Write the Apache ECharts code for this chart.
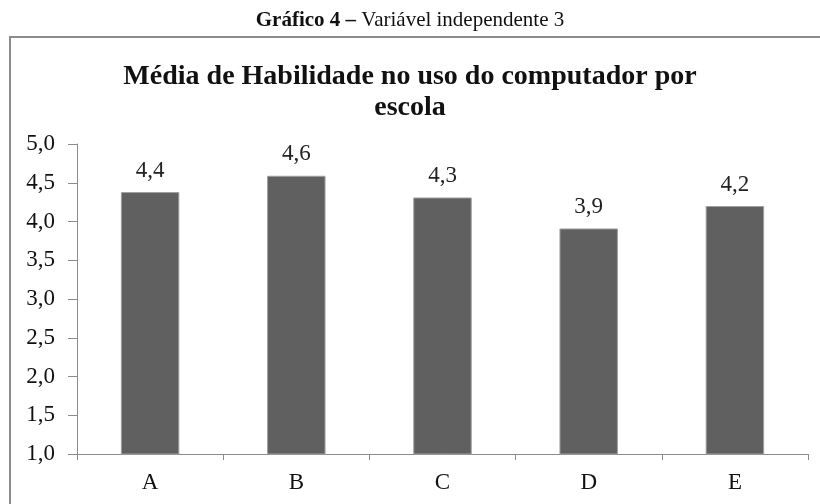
<!DOCTYPE html>
<html>
<head>
<meta charset="utf-8">
<script src="https://cdn.jsdelivr.net/npm/echarts@6/dist/echarts.min.js"></script>
<style>html,body{margin:0;padding:0;background:#fff;}#c{width:820px;height:504px;}</style>
</head>
<body>
<div id="c"></div>
<script>
const categories = ['A', 'B', 'C', 'D', 'E'];
const values = [4.38, 4.59, 4.31, 3.91, 4.20];
const yTicks = ['1,0','1,5','2,0','2,5','3,0','3,5','4,0','4,5','5,0'];
const captionBold = 'Gráfico 4 –';
const captionRest = ' Variável independente 3';
const chartTitle = 'Média de Habilidade no uso do computador por\nescola';

const FONT = "'Liberation Serif', 'Times New Roman', serif";
const chart = echarts.init(document.getElementById('c'), null, {renderer: 'canvas'});
chart.setOption({
  animation: false,
  backgroundColor: '#fff',
  title: [
    {
      text: '{b|' + captionBold + '}{r|' + captionRest + '}',
      left: 'center', top: 5,
      textStyle: {
        fontWeight: 'normal',
        rich: {
          b: {fontFamily: FONT, fontSize: 21, fontWeight: 'bold', color: '#111'},
          r: {fontFamily: FONT, fontSize: 21, fontWeight: 'normal', color: '#111'}
        }
      }
    },
    {
      text: chartTitle,
      left: 'center', top: 56,
      textStyle: {fontFamily: FONT, fontSize: 28, fontWeight: 'bold', color: '#111', lineHeight: 31}
    }
  ],
  graphic: [
    {type: 'rect', shape: {x: 10, y: 37, width: 830, height: 500}, style: {fill: 'none', stroke: '#8c8c8c', lineWidth: 2}, silent: true}
  ],
  grid: {left: 77, right: 12, top: 144, bottom: 50},
  xAxis: {
    type: 'category',
    data: categories,
    axisLine: {lineStyle: {color: '#8c8c8c', width: 1}},
    axisTick: {show: true, length: 6, alignWithLabel: false, lineStyle: {color: '#8c8c8c'}},
    axisLabel: {fontFamily: FONT, fontSize: 23, color: '#111', margin: 17}
  },
  yAxis: {
    type: 'value',
    min: 1, max: 5, interval: 0.5,
    splitLine: {show: false},
    axisLine: {show: true, lineStyle: {color: '#8c8c8c', width: 1}},
    axisTick: {show: true, length: 9, lineStyle: {color: '#8c8c8c'}},
    axisLabel: {
      fontFamily: FONT, fontSize: 23, color: '#111', margin: 22,
      formatter: function (v) { return yTicks[Math.round((v - 1) / 0.5)]; }
    }
  },
  series: [{
    type: 'bar',
    data: values,
    barWidth: '40%',
    itemStyle: {color: '#606060', borderColor: '#a0a0a0', borderWidth: 1},
    label: {
      show: true, position: 'top', distance: 10,
      fontFamily: FONT, fontSize: 23, color: '#222',
      formatter: function (p) { return p.value.toFixed(1).replace('.', ','); }
    }
  }]
});
</script>
</body>
</html>
